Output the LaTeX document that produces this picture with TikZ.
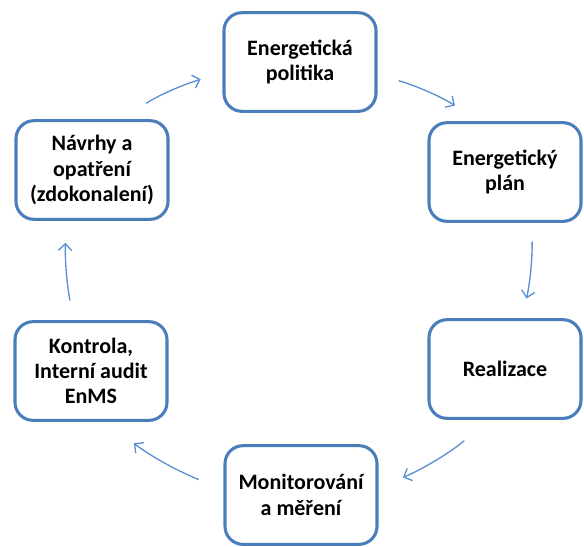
\documentclass[tikz,border=0pt]{standalone}
\usepackage{fontspec}
\setmainfont{Carlito}
\usetikzlibrary{arrows.meta}

\definecolor{boxblue}{HTML}{4A7EBB}
\definecolor{arrowblue}{HTML}{5B8FD3}

\tikzset{
  stagebox/.style={rectangle, rounded corners=13.5pt, draw=boxblue, line width=2.3pt,
    fill=white, minimum width=114pt, minimum height=74pt, align=center,
    font=\fontsize{16.5pt}{19pt}\selectfont\bfseries},
  flow/.style={draw=arrowblue, line width=1pt, -{Straight Barb[length=5pt,width=10pt]}}
}

\begin{document}
\begin{tikzpicture}[x=0.75pt, y=0.75pt]

    % ====== FRAME ======
    \useasboundingbox (0,0) rectangle (584,-546);

    % ====== STAGES ======
    \node[stagebox] (politika)  at (300,-62)  {Energetická\\politika};
    \node[stagebox] (plan)      at (505,-172) {Energetický\\plán};
    \node[stagebox] (realizace) at (505,-369) {Realizace};
    \node[stagebox] (monitor)   at (301,-495) {Monitorování\\a měření};
    \node[stagebox] (kontrola)  at (91,-371)  {Kontrola,\\Interní audit\\EnMS};
    \node[stagebox] (navrhy)    at (92,-170)  {Návrhy a\\opatření\\(zdokonalení)};

    % ====== CYCLE ARROWS ======
    \draw[flow, shorten <=16.5pt, shorten >=21.5pt] (politika.-9) to[bend left=8] (plan.117);
    \draw[flow, shorten <=14pt, shorten >=15pt] (plan.-62) to[bend left=6] (realizace.71);
    \draw[flow, shorten <=24.5pt, shorten >=20pt] (realizace.-107) to[bend left=8] (monitor.5);
    \draw[flow, shorten <=20pt, shorten >=26pt] (monitor.176) to[bend left=8] (kontrola.-73);
    \draw[flow, shorten <=15pt, shorten >=16.5pt] (kontrola.109) to[bend left=6] (navrhy.-117);
    \draw[flow, shorten <=22pt, shorten >=17pt] (navrhy.60) to[bend left=8] (politika.188);

\end{tikzpicture}
\end{document}
